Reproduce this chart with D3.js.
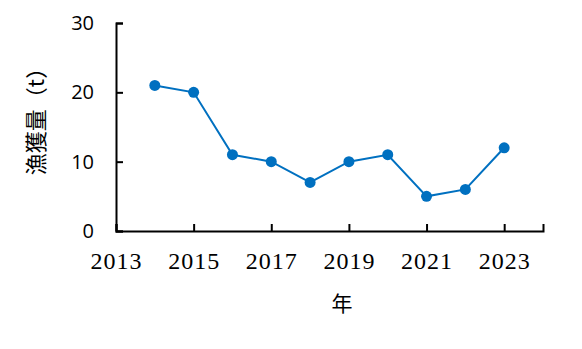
<!DOCTYPE html>
<html>
<head>
<meta charset="utf-8">
<script src="https://cdn.jsdelivr.net/npm/d3@7"></script>
<style>
  body { margin: 0; background: #fff; }
</style>
</head>
<body>
<svg id="chart" width="582" height="349"></svg>
<script>
var years = [2014, 2015, 2016, 2017, 2018, 2019, 2020, 2021, 2022, 2023];
var catch_t = [21, 20, 11, 10, 7, 10, 11, 5, 6, 12];
var xTicks = [2013, 2015, 2017, 2019, 2021, 2023];
var yTicks = [0, 10, 20, 30];

var svg = d3.select("#chart");
var color = "#0070C0";

var x = d3.scaleLinear().domain([2013, 2024]).range([116, 543]);
var y = d3.scaleLinear().domain([0, 30]).range([231, 23]);

// y axis
var yAxis = svg.append("g")
	.attr("transform", "translate(116,0)")
	.call(d3.axisLeft(y).tickValues(yTicks).tickSize(-7).tickPadding(22));
yAxis.select(".domain").attr("stroke", "#000").attr("stroke-width", 2);
yAxis.selectAll(".tick line").attr("stroke", "#000").attr("stroke-width", 2);
yAxis.selectAll(".tick text")
	.attr("font-family", "'Open Sans', 'Liberation Sans', sans-serif")
	.attr("font-size", 20)
	.attr("fill", "#000");

// x axis
var xAxis = svg.append("g")
	.attr("transform", "translate(0,231)")
	.call(d3.axisBottom(x).tickValues(xTicks).tickFormat(d3.format("d")).tickSize(-7).tickPadding(21));
xAxis.select(".domain").attr("stroke", "#000").attr("stroke-width", 2);
xAxis.selectAll(".tick line").attr("stroke", "#000").attr("stroke-width", 2);
xAxis.selectAll(".tick text")
	.attr("font-family", "'Liberation Serif', 'DejaVu Serif', serif")
	.attr("font-size", 24)
	.attr("letter-spacing", 1)
	.attr("fill", "#000");

// line
var line = d3.line()
	.x(function(d, i) { return x(years[i]); })
	.y(function(d) { return y(d); });

svg.append("path")
	.datum(catch_t)
	.attr("d", line)
	.attr("fill", "none")
	.attr("stroke", color)
	.attr("stroke-width", 2);

svg.selectAll("circle.pt")
	.data(catch_t)
	.enter()
	.append("circle")
	.classed("pt", true)
	.attr("cx", function(d, i) { return x(years[i]); })
	.attr("cy", function(d) { return y(d); })
	.attr("r", 5.5)
	.attr("fill", color);

// axis titles
svg.append("text")
	.attr("transform", "translate(34,116) rotate(-90)")
	.attr("text-anchor", "middle")
	.attr("dominant-baseline", "central")
	.attr("font-family", "'Noto Sans CJK JP', sans-serif")
	.attr("font-size", 22)
	.text("漁獲量（t）");

svg.append("text")
	.attr("x", 342)
	.attr("y", 302)
	.attr("text-anchor", "middle")
	.attr("dominant-baseline", "central")
	.attr("font-family", "'Noto Sans CJK JP', sans-serif")
	.attr("font-size", 21)
	.text("年");
</script>
</body>
</html>
